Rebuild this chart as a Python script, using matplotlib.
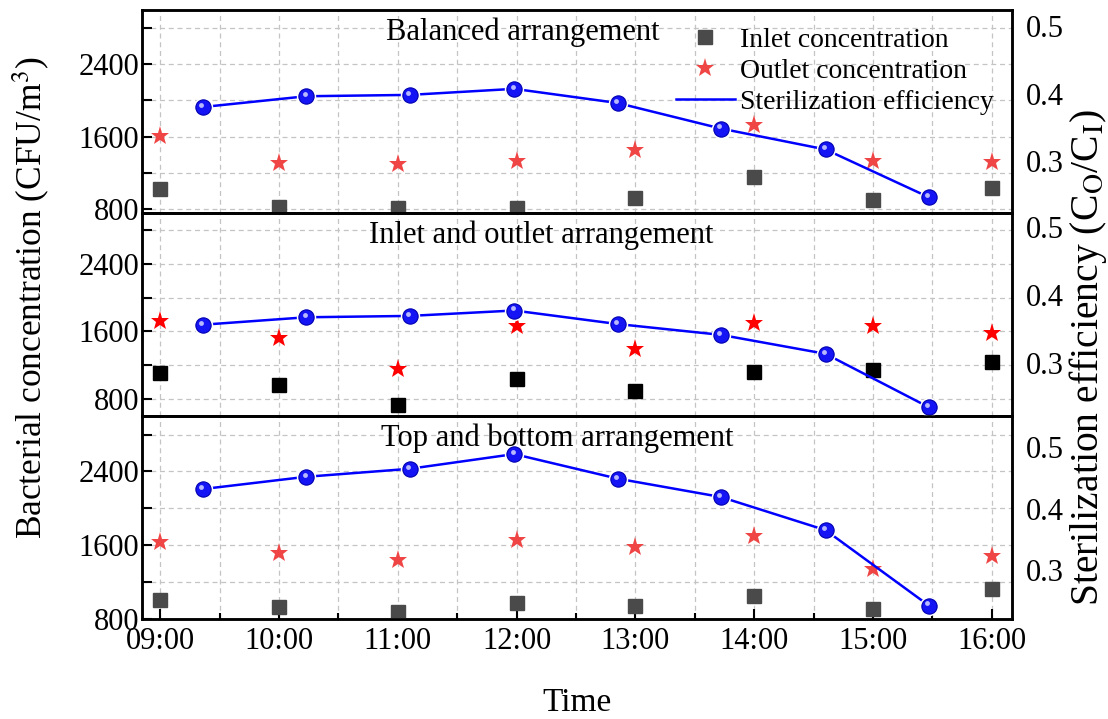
import matplotlib.pyplot as plt
import matplotlib.transforms as mtransforms
from matplotlib.lines import Line2D
from matplotlib.ticker import MultipleLocator, FixedLocator, FuncFormatter

plt.rcParams['font.family'] = ['Liberation Serif', 'DejaVu Serif']
plt.rcParams['mathtext.fontset'] = 'stix'

# sampling hours (inlet / outlet) and efficiency hours
hours = [9, 10, 11, 12, 13, 14, 15, 16]
eff_hours = [9.36, 10.23, 11.10, 11.98, 12.85, 13.72, 14.60, 15.47]
hour_labels = ['09:00', '10:00', '11:00', '12:00', '13:00', '14:00', '15:00', '16:00']

panel_names = ['Balanced arrangement',
               'Inlet and outlet arrangement',
               'Top and bottom arrangement']

# bacterial concentration, CFU/m3
inlet_balanced = [1025, 822, 815, 815, 922, 1156, 897, 1030]
outlet_balanced = [1611, 1308, 1300, 1333, 1452, 1730, 1333, 1322]
inlet_io = [1106, 968, 733, 1039, 898, 1125, 1145, 1242]
outlet_io = [1721, 1518, 1153, 1662, 1388, 1706, 1662, 1584]
inlet_tb = [1005, 926, 872, 969, 940, 1051, 905, 1123]
outlet_tb = [1633, 1519, 1436, 1659, 1580, 1698, 1339, 1482]

# sterilization efficiency C_O/C_I
eff_balanced = [0.380, 0.396, 0.398, 0.407, 0.386, 0.348, 0.317, 0.246]
eff_io = [0.356, 0.367, 0.369, 0.377, 0.357, 0.341, 0.313, 0.234]
eff_tb = [0.432, 0.452, 0.465, 0.489, 0.449, 0.419, 0.365, 0.242]

inlets = [inlet_balanced, inlet_io, inlet_tb]
outlets = [outlet_balanced, outlet_io, outlet_tb]
effs = [eff_balanced, eff_io, eff_tb]

sq_colors = ['#4a4a4a', '#000000', '#4a4a4a']
star_colors = ['#f04545', '#ff0000', '#f04545']
left_lims = [(755, 3000), (600, 3000), (800, 3000)]
right_lims = [(0.2225, 0.524), (0.221, 0.521), (0.22, 0.551)]
title_x = [523, 541, 557]

fig, axes = plt.subplots(3, 1, figsize=(11.08, 7.19), dpi=100, sharex=True,
                         gridspec_kw={'hspace': 0})
fig.subplots_adjust(left=0.128, right=0.9134, bottom=0.139, top=0.986)

fs = 22
blue = '#0000ff'

for i, ax in enumerate(axes):
    ax.plot(hours, inlets[i], 's', color=sq_colors[i], markersize=9.5,
            linestyle='none', zorder=3, clip_on=False)
    ax.plot(hours, outlets[i], '*', color=star_colors[i], markersize=14,
            markeredgewidth=0, linestyle='none', zorder=3)
    ax.set_xlim(8.846, 16.17)
    ax.set_ylim(*left_lims[i])
    ax.yaxis.set_major_locator(FixedLocator([800, 1600, 2400]))
    ax.yaxis.set_minor_locator(FixedLocator([1200, 2000, 2800]))
    ax.xaxis.set_major_locator(MultipleLocator(1))
    ax.xaxis.set_minor_locator(MultipleLocator(0.5))
    ax.grid(True, which='both', linestyle=(0, (4, 3)), color='#c4c4c4', linewidth=0.9)
    ax.set_axisbelow(True)
    ax.tick_params(axis='y', which='both', direction='in', length=7, width=1.5,
                   labelsize=fs, pad=2)
    ax.tick_params(axis='x', which='both', length=0)
    for s in ax.spines.values():
        s.set_linewidth(1.8)

    # efficiency on a twin axis
    tw = ax.twinx()
    tw.set_ylim(*right_lims[i])
    tw.yaxis.set_major_locator(FixedLocator([0.3, 0.4, 0.5]))
    tw.tick_params(axis='y', length=0, labelsize=fs, pad=10)
    tw.plot(eff_hours, effs[i], '-', color=blue, linewidth=1.8, zorder=2)
    tw.plot(eff_hours, effs[i], 'o', color='white', markersize=14,
            markeredgewidth=0, zorder=3, clip_on=False)
    tw.plot(eff_hours, effs[i], 'o', color='#1414f5', markersize=11,
            markeredgecolor='#0000b0', markeredgewidth=0.8, zorder=4, clip_on=False)
    shine = mtransforms.offset_copy(tw.transData, fig=fig, x=-1.2, y=1.5, units='points')
    tw.plot(eff_hours, effs[i], 'o', color='#b8b8ff', markersize=3.5,
            markeredgewidth=0, transform=shine, zorder=5, clip_on=False)
    for s in tw.spines.values():
        s.set_linewidth(1.8)

    fig.text(title_x[i] / 1108, 0, panel_names[i], fontsize=fs, ha='center', va='center',
             transform=mtransforms.blended_transform_factory(fig.transFigure, ax.transAxes),
             zorder=10).set_y(0.89)

axes[-1].tick_params(axis='x', which='major', direction='in', length=7, width=1.5,
                     labelsize=fs, pad=6)
axes[-1].tick_params(axis='x', which='minor', direction='in', length=4, width=1.5)
axes[-1].xaxis.set_major_formatter(FuncFormatter(lambda v, p: hour_labels[int(round(v)) - 9]
                                                 if 9 <= round(v) <= 16 else ''))

fig.text(577 / 1108, 1 - 703 / 719, 'Time', fontsize=24, ha='center', va='center')
fig.text(32 / 1108, 1 - 298 / 719, 'Bacterial concentration (CFU/m$^3$)', fontsize=25.5,
         rotation=90, ha='center', va='center')
fig.text(1088 / 1108, 1 - 358 / 719, 'Sterilization efficiency (C$_\\mathrm{O}$/C$_\\mathrm{I}$)',
         fontsize=28.5, rotation=90, ha='center', va='center')

handles = [Line2D([], [], marker='s', color='#4a4a4a', linestyle='none', markersize=9.5),
           Line2D([], [], marker='*', color='#f04545', linestyle='none', markersize=14,
                  markeredgewidth=0),
           Line2D([], [], color=blue, linewidth=1.8)]
labels = ['Inlet concentration', 'Outlet concentration', 'Sterilization efficiency']
leg = fig.legend(handles, labels, loc='upper right', bbox_to_anchor=(1005 / 1108, 1 - 16 / 719),
                 frameon=False, fontsize=20, handlelength=2.1, handletextpad=0.2,
                 labelspacing=0.2, borderaxespad=0)
leg.set_zorder(20)

fig.savefig('out.png', dpi=100)
